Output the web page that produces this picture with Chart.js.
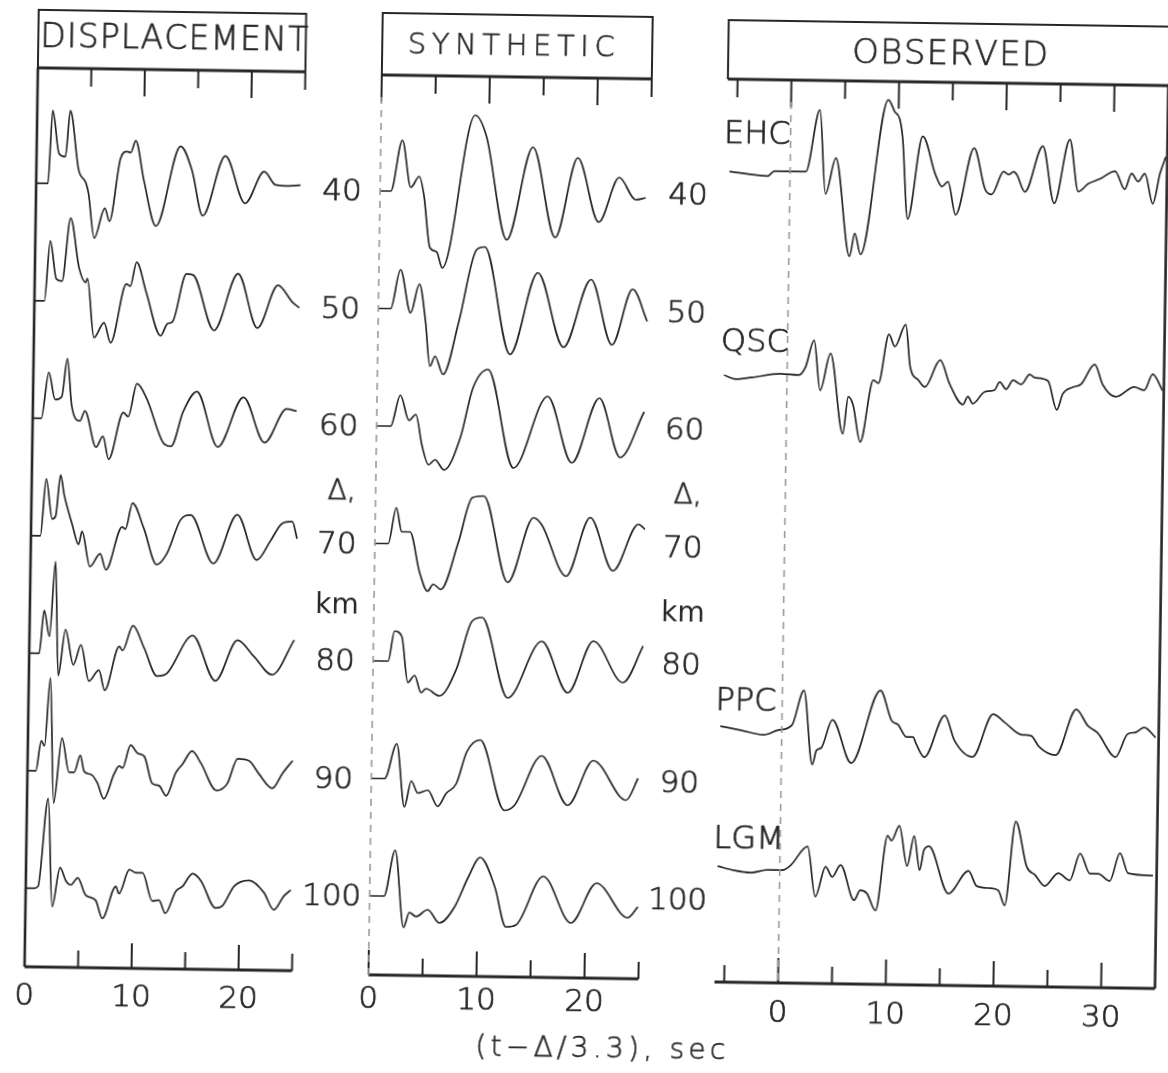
<!DOCTYPE html>
<html>
<head>
<meta charset="utf-8">
<title>Displacement, synthetic and observed records</title>
<script src="https://cdn.jsdelivr.net/npm/chart.js@4.4.1/dist/chart.umd.min.js"></script>
<style>
  html, body { margin: 0; padding: 0; background: #fff; overflow: hidden; }
  #sheet { position: relative; width: 1168px; height: 1073px; transform: rotate(0.85deg); transform-origin: 584px 536px; }
  #sheet canvas { position: absolute; left: 0; top: 0; }
</style>
</head>
<body>
<div id="sheet">
  <canvas id="disp" width="1168" height="1073"></canvas>
  <canvas id="syn" width="1168" height="1073"></canvas>
  <canvas id="obs" width="1168" height="1073"></canvas>
</div>
<script>
// epicentral distance of each computed trace, km
const distances = [40, 50, 60, 70, 80, 90, 100];

// displacement traces: turning points, time (s) and amplitude (arbitrary units, up positive)
const dispTime = [
  [0,1.1,1.45,2.1,2.7,3.1,3.95,4.65,4.9,5.5,6.45,6.9,7.85,8.45,8.8,9.25,10.05,11.25,13.45,14.55,15.6,17.65,19.55,21.3,22.35,23.25,24.7],
  [0,0.93,1.4,2.02,2.55,3.27,4.14,4.77,4.92,5.61,6.54,7.17,8.57,8.94,9.5,10.44,11.84,12.46,12.93,14.17,14.8,16.82,19.0,20.87,22.74,24.14,24.77],
  [0,0.8,1.45,2.07,2.69,3.16,3.63,4.41,4.87,5.96,6.59,7.15,8.46,8.92,9.7,10.64,12.2,12.97,14.06,15.31,17.33,19.67,21.7,23.72,24.65],
  [0,0.88,1.35,1.97,2.28,2.69,3.06,3.84,4.46,4.77,5.55,6.49,7.05,8.51,8.82,9.45,10.54,11.78,12.72,13.96,14.9,17.08,19.26,21.13,22.37,23.46,24.4,24.87],
  [0,0.93,1.34,1.87,2.34,2.74,3.36,4.14,4.83,5.61,6.54,7.1,8.41,8.72,9.66,10.73,11.98,12.91,15.25,17.43,19.45,21.01,22.72,24.75],
  [0,0.78,1.25,1.56,2.02,2.49,3.18,3.89,4.36,4.92,5.3,5.98,6.54,7.17,8.1,8.57,8.88,9.6,10.28,10.9,11.68,12.31,13.0,13.86,14.49,15.36,16.2,17.69,18.69,19.63,20.72,21.65,22.9,23.83,24.77],
  [0,0.78,1.15,1.98,2.49,3.18,3.74,4.21,4.85,5.6,6.54,7.2,8.41,8.72,9.66,10.28,10.9,11.84,12.46,13.08,14.02,14.64,15.58,16.36,17.76,18.38,19.47,20.87,22.27,23.21,24.14,24.77]
];
const dispAmp = [
  [0,0,73,30,27,73,14,1,-9,-54,-24,-37,26,33,32,44,5,-41,39,15,-30,30,-17,15,2,1,2],
  [0,0,60,22,20,83,33,19,23,-36,-21,-41,18,16,40,10,-33,-21,-19,29,28,-27,30,-24,19,2,-3],
  [0,0,46,19,22,60,13,-2,8,-28,-17,-40,7,3,36,21,-22,-26,9,29,-26,24,-21,13,11],
  [0,0,57,17,20,61,41,12,-8,5,-30,-17,-33,10,8,34,9,-27,-16,18,23,-25,24,-21,-2,16,18,1],
  [0,0,43,17,92,-22,24,-11,9,-27,-16,-36,8,4,29,7,-21,-18,20,-25,16,0,-18,17],
  [0,0,30,25,93,-32,33,-1,-1,16,0,-3,-11,-27,-2,6,4,27,19,16,-11,-13,-23,0,9,22,10,-17,-10,15,13,0,-14,1,14],
  [0,0,2,90,-18,21,8,4,11,-6,-11,-29,3,-4,20,17,17,-11,-10,-23,-1,4,17,10,-17,-15,5,11,-1,-18,-4,2]
];

// synthetic seismograms at the same distances
const synTime = [
  [0,0.99,2.0,2.84,3.61,4.07,4.69,5.31,5.86,8.7,9.78,11.79,14.1,16.27,18.27,20.28,22.13,23.67,24.6],
  [0,1.14,2.0,2.99,3.77,4.38,4.85,5.31,6.08,7.47,9.01,9.78,12.25,14.72,17.19,19.66,21.67,23.52,24.91],
  [0,1.3,2.16,2.99,3.61,4.23,4.85,5.46,6.3,7.78,8.86,10.25,12.72,15.8,18.12,20.59,22.59,24.75],
  [0,1.23,1.94,2.47,3.24,4.17,4.94,5.46,6.17,7.72,8.95,10.03,12.35,14.66,15.43,17.75,19.91,22.07,24.38,25.0],
  [0,1.39,1.94,2.62,3.24,3.86,4.48,4.94,6.17,7.72,9.1,10.03,12.5,15.59,18.06,20.37,23.15,25.0],
  [0,1.23,2.31,3.09,3.7,4.32,5.25,6.17,6.94,7.87,8.8,10.03,12.35,13.27,15.74,18.21,20.52,23.61,24.69],
  [0,1.33,2.31,3.18,3.7,4.32,5.4,6.48,7.87,9.1,10.19,11.57,12.65,13.58,16.05,18.67,20.99,23.92,24.85]
];
const synAmp = [
  [0,0,51,4,15,-4,-56,-60,-76,77,56,-47,46,-44,36,-28,17,-5,-3],
  [0,0,39,-4,25,-12,-57,-47,-65,-12,60,63,-44,38,-36,32,-33,23,-9],
  [0,0,31,6,12,-19,-38,-33,-43,-10,39,58,-40,32,-34,31,-28,18],
  [0,0,36,12,12,-28,-47,-40,-45,2,47,49,-37,28,21,-30,29,-24,23,18],
  [0,0,30,25,-21,-14,-31,-27,-34,-7,41,45,-35,22,-29,23,-18,19],
  [0,0,35,-28,-2,-14,-11,-27,-14,-4,28,40,-30,-25,25,-24,21,-18,4],
  [0,0,46,-31,-16,-20,-13,-26,-10,20,40,11,-29,-27,22,-24,16,-18,-7]
];

// observed records
const stations = ['EHC', 'QSC', 'PPC', 'LGM'];
const stationDelta = [37.9, 55.4, 85.2, 97.2];
const obsTime = [
  [-5.63,-2.08,-1.46,1.46,2.7,3.31,4.24,5.63,6.09,6.65,9.03,9.65,10.11,10.42,10.97,12.27,13.5,14.12,14.68,15.42,17.06,18.13,18.75,19.83,20.3,20.76,21.06,21.83,23.44,24.56,25.94,26.78,27.7,28.78,30.17,31.1,31.71,32.33,32.94,33.72,34.34,34.86],
  [-5.86,-4.78,-3.24,-0.62,1.08,1.7,2.47,3.09,4.01,5.25,5.71,6.17,6.88,8.02,8.49,9.41,9.97,10.96,11.42,12.19,12.81,14.2,15.12,16.36,16.82,17.28,18.36,19.29,19.75,20.37,20.99,21.76,22.53,22.99,24.23,25.09,25.62,26.54,27.31,28.55,29.32,30.56,32.25,33.18,33.95,34.88],
  [-5.71,-3.7,-1.7,-0.31,0.93,2.01,2.87,3.24,3.7,4.69,6.48,9.11,10.19,10.8,11.57,12.19,12.5,13.27,15.12,16.05,17.75,19.6,20.68,22.22,23.15,23.92,25.46,27.31,28.4,29.32,31.02,32.1,32.87,33.64,34.72],
  [-5.77,-4.23,-2.68,-1.14,0.25,1.02,2.56,3.33,4.26,4.88,5.65,6.94,7.5,8.12,8.95,9.97,10.34,11.05,11.82,12.44,12.99,13.36,13.83,15.68,17.53,18.3,19.54,20.31,20.93,21.85,22.93,23.7,24.63,25.86,26.94,27.87,28.8,29.57,30.65,31.57,32.35,34.66]
];
const obsAmp = [
  [0,-4,1,1,63,-21,15,-83,-60,-81,74,62,55,35,-45,38,0,-12,-7,-40,27,-14,-19,4,1,4,1,-16,30,-27,37,-15,-7,-2,6,-12,4,-4,4,-26,4,21],
  [2,-2,0,4,3,11,38,-12,25,-55,-18,-26,-63,-1,-4,45,33,55,13,0,-7,20,-4,-24,-16,-23,-11,-9,-1,-8,1,-3,7,4,1,-28,-12,-5,-2,18,-2,-14,-4,-7,9,-7],
  [1,-3,-7,-2,3,38,-36,-22,-19,9,-34,39,9,5,-7,-7,-14,-27,15,-10,-26,17,9,-3,-4,-15,-23,23,7,0,-24,-1,1,6,-4],
  [2,-2,-4,-1,-1,4,23,-27,3,-7,5,-30,-20,-23,-40,35,30,45,5,35,1,21,25,-22,1,-14,-16,-18,-33,51,6,-2,-13,0,-7,20,0,0,-7,21,1,-1]
];

// time axis ticks and labels
const tickSec = [0, 5, 10, 15, 20, 25];
const tickSecObs = [-5, 0, 5, 10, 15, 20, 25, 30];
const labelSec = [0, 10, 20];
const labelSecObs = [0, 10, 20, 30];

// ---- drawing ----
const W = 1168, H = 1073;
const INK = '#262626';
const FACE = '"DejaVu Sans", "Liberation Sans", sans-serif';
const PX_PER_KM = 11.75;   // trace spacing on the page
const GAIN = 1 / PX_PER_KM; // km of offset per amplitude unit

function setFont(ctx, size, weight) {
  ctx.font = `${weight || 200} ${size}px ${FACE}`;
}

// letters spread evenly over a given width (lettering-guide look)
function spread(ctx, text, cx, cy, size, width) {
  setFont(ctx, size);
  const chars = [...text];
  const ws = chars.map(c => ctx.measureText(c).width);
  const gap = (width - ws.reduce((s, w) => s + w, 0)) / (chars.length - 1);
  let px = cx - width / 2;
  ctx.textAlign = 'left';
  ctx.textBaseline = 'middle';
  ctx.lineWidth = 0.6;
  chars.forEach((c, i) => {
    ctx.fillText(c, px, cy);
    ctx.strokeText(c, px, cy);
    px += ws[i] + gap;
  });
}

function text(ctx, s, x, y, size, align, weight) {
  setFont(ctx, size, weight);
  ctx.textAlign = align || 'center';
  ctx.textBaseline = 'middle';
  ctx.fillText(s, x, y);
  if (!weight || weight < 400) {
    ctx.lineWidth = 0.7;
    ctx.strokeText(s, x, y);
  }
}

function seg(ctx, x0, y0, x1, y1) {
  ctx.beginPath(); ctx.moveTo(x0, y0); ctx.lineTo(x1, y1); ctx.stroke();
}

const framePlugin = {
  id: 'frame',
  afterDatasetsDraw(chart, _args, o) {
    const ctx = chart.ctx, area = chart.chartArea;
    const x = chart.scales.x, y = chart.scales.y;
    const px = v => x.getPixelForValue(v);
    ctx.save();
    ctx.strokeStyle = INK;
    ctx.fillStyle = INK;

    // heading box
    const bx0 = px(o.boxFrom), bx1 = px(o.boxTo);
    ctx.lineWidth = 2;
    ctx.beginPath();
    ctx.moveTo(bx0, area.top); ctx.lineTo(bx0, o.boxTop); ctx.lineTo(bx1, o.boxTop); ctx.lineTo(bx1, area.top);
    ctx.stroke();
    spread(ctx, o.title, px(o.titleAt), o.titleY, o.titleSize, o.titleWidth);

    // top and bottom time axes
    ctx.lineWidth = 3;
    seg(ctx, bx0, area.top, bx1, area.top);
    seg(ctx, area.left, area.bottom, area.right, area.bottom);
    ctx.lineWidth = 2;
    o.ticks.forEach(v => {
      const major = v % 10 === 0;
      if (v > x.min || o.zeroTick) seg(ctx, px(v), area.top, px(v), area.top + (major ? 27 : 18));
      seg(ctx, px(v), area.bottom, px(v), area.bottom - (major ? 25 : 17));
    });
    o.labels.forEach(v => text(ctx, String(v), px(v), o.labelY, 31));

    // t = 0 line and right edge
    if (o.zero === 'solid') {
      ctx.lineWidth = 2.6;
      seg(ctx, px(0), area.top, px(0), area.bottom);
    } else {
      ctx.save();
      ctx.strokeStyle = '#9a9a9a';
      ctx.lineWidth = 1.6;
      ctx.setLineDash([7, 6]);
      seg(ctx, px(0), area.top + 22, px(0), area.bottom);
      ctx.restore();
    }
    if (o.rightEdge) {
      ctx.lineWidth = 2.6;
      seg(ctx, area.right, area.top, area.right, area.bottom);
    }

    // distance labels beside the traces
    if (o.distX) {
      distances.forEach(d => text(ctx, String(d), o.distX, y.getPixelForValue(d) + o.distDy, 31));
      text(ctx, 'Δ,', o.distX + 4, y.getPixelForValue(o.deltaAt), 28);
      text(ctx, 'km', o.distX + 1, y.getPixelForValue(o.kmAt), 28, 'center', 400);
    }
    if (o.names) {
      stations.forEach((s, i) => text(ctx, s, o.nameX, y.getPixelForValue(stationDelta[i]) - o.nameLift[i], 32, 'left'));
    }
    if (o.axisTitle) {
      spread(ctx, o.axisTitle, o.axisTitleX, o.axisTitleY, 28, o.axisTitleWidth);
    }
    ctx.restore();
  }
};

function traces(times, amps, deltas) {
  return times.map((ts, i) => ({
    data: ts.map((t, j) => ({ x: t, y: deltas[i] - amps[i][j] * GAIN })),
    borderColor: INK,
    borderWidth: 1.7,
    pointRadius: 0,
    cubicInterpolationMode: 'monotone',
    fill: false
  }));
}

function panel(id, datasets, box, frame) {
  // y scale in km, 40 km trace sits at box.base40
  const yMin = 40 + (box.top - box.base40) / PX_PER_KM;
  const yMax = 40 + (box.bottom - box.base40) / PX_PER_KM;
  return new Chart(document.getElementById(id), {
    type: 'line',
    data: { datasets },
    options: {
      responsive: false,
      animation: false,
      events: [],
      layout: { padding: { left: box.left, right: W - box.right, top: box.top, bottom: H - box.bottom } },
      scales: {
        x: { type: 'linear', min: box.t[0], max: box.t[1], display: false },
        y: { type: 'linear', min: yMin, max: yMax, reverse: true, display: false }
      },
      plugins: { legend: { display: false }, tooltip: { enabled: false }, frame }
    },
    plugins: [framePlugin]
  });
}

panel('disp', traces(dispTime, dispAmp, distances),
  { left: 31, right: 298.5, top: 76, bottom: 975, base40: 191.4, t: [0, 25] },
  { boxFrom: 0, boxTo: 25, boxTop: 18, title: 'DISPLACEMENT', titleAt: 12.7, titleY: 46, titleSize: 33, titleWidth: 268,
    ticks: tickSec, labels: labelSec, labelY: 1005, zero: 'solid',
    distX: 337, distDy: 5, deltaAt: 65.9, kmAt: 75.6 });

panel('syn', traces(synTime, synAmp, distances),
  { left: 375, right: 645, top: 78, bottom: 978, base40: 194, t: [0, 25] },
  { boxFrom: 0, boxTo: 25, boxTop: 16, title: 'SYNTHETIC', titleAt: 11.94, titleY: 48.5, titleSize: 29, titleWidth: 207,
    ticks: tickSec, zeroTick: true, labels: labelSec, labelY: 1003, zero: 'dashed',
    distX: 683, distDy: 1, deltaAt: 65.6, kmAt: 75.65,
    axisTitle: '(t−Δ/3.3), sec', axisTitleX: 608, axisTitleY: 1050, axisTitleWidth: 250 });

panel('obs', traces(obsTime, obsAmp, stationDelta),
  { left: 721.1, right: 1161.6, top: 77, bottom: 980, base40: 194, t: [-5.9, 35] },
  { boxFrom: -5.9, boxTo: 36, boxTop: 18, title: 'OBSERVED', titleAt: 14.7, titleY: 50, titleSize: 34, titleWidth: 196,
    ticks: tickSecObs, zeroTick: true, labels: labelSecObs, labelY: 1011, zero: 'dashed', rightEdge: true,
    names: true, nameX: 718, nameLift: [37, 34, 25, 28] });
</script>
</body>
</html>
